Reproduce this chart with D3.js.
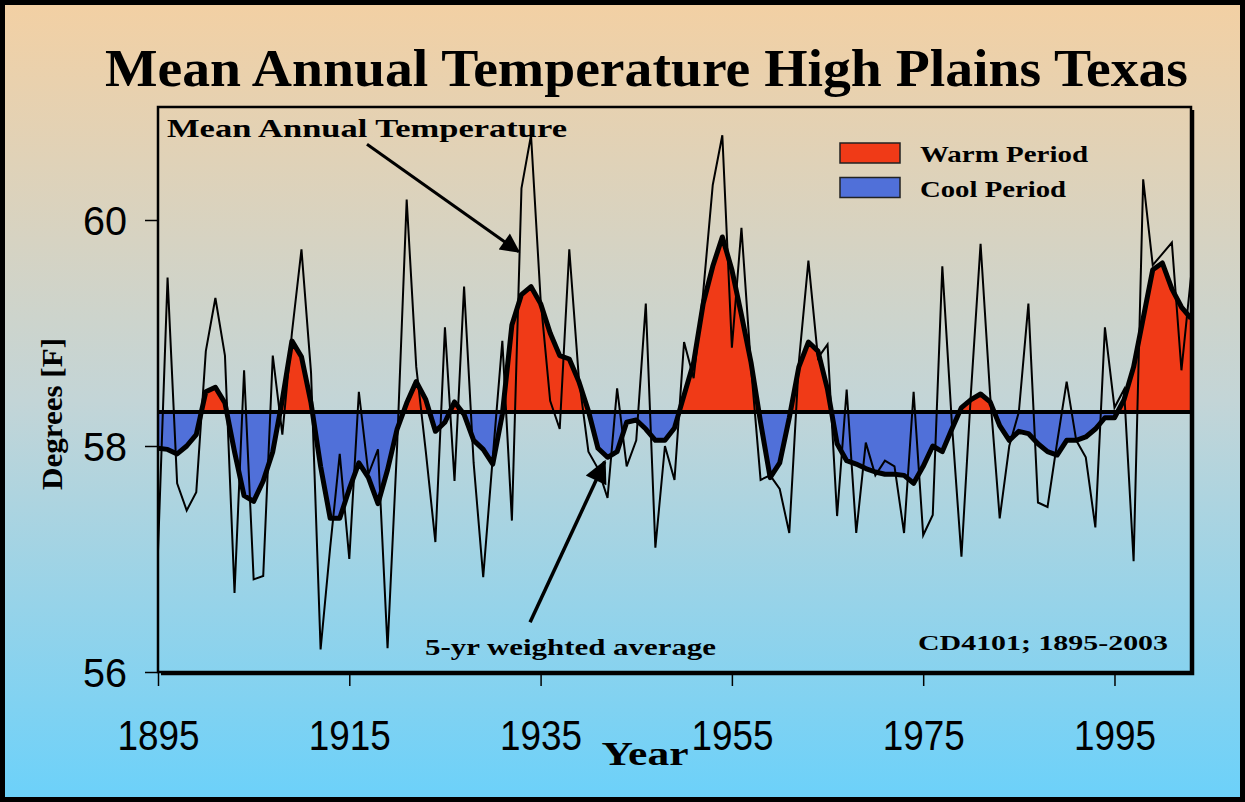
<!DOCTYPE html>
<html>
<head>
<meta charset="utf-8">
<script src="https://cdn.jsdelivr.net/npm/d3@7"></script>
<style>
  html, body { margin: 0; padding: 0; background: #fff; }
  svg { display: block; }
</style>
</head>
<body>
<svg id="chart" width="1245" height="802"></svg>
<script>
// ---------------- DATA ----------------
const years = d3.range(1895, 2004);
const annualTemp = [
  57.07, 59.49, 57.67, 57.43, 57.59, 58.84, 59.31, 58.80, 56.70, 58.67, // 1895-1904
  56.82, 56.85, 58.80, 58.10, 59.00, 59.74, 58.65, 56.20, 57.10, 57.93, // 1905-1914
  57.00, 58.48, 57.75, 57.97, 56.21, 58.00, 60.18, 58.70, 57.95, 57.15, // 1915-1924
  59.05, 57.69, 59.41, 57.85, 56.84, 57.90, 58.93, 57.34, 60.28, 60.75, // 1925-1934
  59.30, 58.40, 58.15, 59.74, 58.60, 57.95, 57.80, 57.54, 58.51, 57.82, // 1935-1944
  58.05, 59.26, 57.10, 58.00, 57.70, 58.92, 58.60, 59.36, 60.31, 60.75, // 1945-1954
  58.87, 59.93, 58.70, 57.70, 57.74, 57.62, 57.23, 58.74, 59.64, 58.78, // 1955-1964
  58.90, 57.38, 58.50, 57.23, 58.03, 57.74, 57.87, 57.82, 57.23, 58.48, // 1965-1974
  57.21, 57.39, 59.59, 58.20, 57.02, 58.48, 59.79, 58.45, 57.36, 58.00, // 1975-1984
  58.30, 59.26, 57.50, 57.46, 58.03, 58.57, 58.05, 57.90, 57.28, 59.05, // 1985-1994
  58.34, 58.50, 56.98, 60.36, 59.60, 59.70, 59.80, 58.67, 59.50          // 1995-2003
];
const weightedAvg5yr = [
  57.98, 57.97, 57.93, 58.00, 58.10, 58.48, 58.52, 58.38, 57.95, 57.56, // 1895-1904
  57.51, 57.69, 57.95, 58.41, 58.93, 58.79, 58.38, 57.82, 57.36, 57.36, // 1905-1914
  57.62, 57.85, 57.72, 57.49, 57.79, 58.15, 58.38, 58.57, 58.41, 58.13, // 1915-1924
  58.21, 58.39, 58.28, 58.05, 57.97, 57.84, 58.28, 59.07, 59.34, 59.41, // 1925-1934
  59.26, 59.00, 58.80, 58.77, 58.57, 58.31, 57.98, 57.90, 57.95, 58.21, // 1935-1944
  58.23, 58.15, 58.05, 58.05, 58.16, 58.45, 58.74, 59.26, 59.59, 59.85, // 1945-1954
  59.56, 59.16, 58.74, 58.21, 57.72, 57.85, 58.25, 58.70, 58.92, 58.84, // 1955-1964
  58.50, 58.02, 57.87, 57.84, 57.80, 57.77, 57.75, 57.75, 57.74, 57.67, // 1965-1974
  57.82, 58.00, 57.95, 58.15, 58.34, 58.41, 58.46, 58.39, 58.18, 58.05, // 1975-1984
  58.13, 58.11, 58.02, 57.95, 57.92, 58.05, 58.05, 58.08, 58.15, 58.25, // 1985-1994
  58.25, 58.41, 58.70, 59.13, 59.56, 59.62, 59.39, 59.23, 59.13          // 1995-2003
];
const baselineMean = 58.3;
const xTickYears = [1895, 1915, 1935, 1955, 1975, 1995];
const yTickValues = [56, 58, 60];
const legendItems = ["Warm Period", "Cool Period"];

// ---------------- LAYOUT ----------------
const W = 1245, H = 802;
const plot = { left: 158, right: 1191, top: 107, bottom: 672 };
const svg = d3.select("#chart");
const serif = "'Liberation Serif', 'Times New Roman', serif";
const sans = "'Liberation Sans', Arial, sans-serif";
const warmColor = "#F03A17";
const coolColor = "#5070D9";

const x = d3.scaleLinear().domain([1895, 2003]).range([plot.left, plot.right]);
const y = d3.scaleLinear().domain([56, 61]).range([plot.bottom, plot.top]);

const defs = svg.append("defs");
const grad = defs.append("linearGradient").attr("id", "bg")
  .attr("x1", 0).attr("y1", 0).attr("x2", 0).attr("y2", 1);
grad.append("stop").attr("offset", "0%").attr("stop-color", "#F3D0A3");
grad.append("stop").attr("offset", "50%").attr("stop-color", "#C3D5D7");
grad.append("stop").attr("offset", "100%").attr("stop-color", "#6BD1FA");

const baseY = y(baselineMean);
defs.append("clipPath").attr("id", "clipAbove").append("rect")
  .attr("x", plot.left).attr("y", plot.top)
  .attr("width", plot.right - plot.left).attr("height", baseY - plot.top);
defs.append("clipPath").attr("id", "clipBelow").append("rect")
  .attr("x", plot.left).attr("y", baseY)
  .attr("width", plot.right - plot.left).attr("height", plot.bottom - baseY);

const marker = defs.append("marker").attr("id", "arrow")
  .attr("viewBox", "0 0 10 10").attr("refX", 9).attr("refY", 5)
  .attr("markerWidth", 9).attr("markerHeight", 6.5)
  .attr("markerUnits", "strokeWidth").attr("orient", "auto");
marker.append("path").attr("d", "M0,0 L10,5 L0,10 Z").attr("fill", "#000");

// background + outer frame
svg.append("rect").attr("x", 0).attr("y", 0).attr("width", W).attr("height", H)
  .attr("fill", "url(#bg)");
svg.append("rect").attr("x", 2.5).attr("y", 2.5).attr("width", W - 5).attr("height", H - 5)
  .attr("fill", "none").attr("stroke", "#000").attr("stroke-width", 5);

// title
svg.append("text").attr("x", 105).attr("y", 86)
  .attr("font-family", serif).attr("font-weight", "bold").attr("font-size", 52)
  .attr("textLength", 1083).attr("lengthAdjust", "spacingAndGlyphs")
  .text("Mean Annual Temperature High Plains Texas");

// data
const pts = years.map((yr, i) => ({ yr, t: annualTemp[i], a: weightedAvg5yr[i] }));

const area = d3.area().x(d => x(d.yr)).y0(baseY).y1(d => y(d.a));
svg.append("path").datum(pts).attr("d", area).attr("fill", warmColor)
  .attr("clip-path", "url(#clipAbove)");
svg.append("path").datum(pts).attr("d", area).attr("fill", coolColor)
  .attr("clip-path", "url(#clipBelow)");

// baseline
svg.append("line").attr("x1", plot.left).attr("x2", plot.right)
  .attr("y1", baseY).attr("y2", baseY).attr("stroke", "#000").attr("stroke-width", 4);

// annual line
svg.append("path").datum(pts)
  .attr("d", d3.line().x(d => x(d.yr)).y(d => y(d.t)))
  .attr("fill", "none").attr("stroke", "#000").attr("stroke-width", 2)
  .attr("stroke-linejoin", "miter");

// 5-yr line
svg.append("path").datum(pts)
  .attr("d", d3.line().x(d => x(d.yr)).y(d => y(d.a)))
  .attr("fill", "none").attr("stroke", "#000").attr("stroke-width", 5)
  .attr("stroke-linejoin", "round");

// plot frame (with slight shadow)
svg.append("path")
  .attr("d", `M${plot.left + 3},${plot.bottom + 2} H${plot.right + 2} V${plot.top + 3}`)
  .attr("fill", "none").attr("stroke", "#000").attr("stroke-width", 2.5);
svg.append("rect").attr("x", plot.left).attr("y", plot.top)
  .attr("width", plot.right - plot.left).attr("height", plot.bottom - plot.top)
  .attr("fill", "none").attr("stroke", "#000").attr("stroke-width", 2.5);

// axes
const yAxis = svg.append("g").attr("transform", `translate(${plot.left},0)`)
  .call(d3.axisLeft(y).tickValues(yTickValues).tickSize(13).tickPadding(0)
    .tickFormat(d3.format("d")));
yAxis.select(".domain").remove();
yAxis.selectAll("line").attr("stroke", "#000").attr("stroke-width", 1.5);
yAxis.selectAll("text").attr("x", -31).attr("dy", "0.36em")
  .attr("font-family", sans).attr("font-size", 41).attr("fill", "#000")
  .attr("textLength", 44).attr("lengthAdjust", "spacingAndGlyphs");

const xAxis = svg.append("g").attr("transform", `translate(0,${plot.bottom})`)
  .call(d3.axisBottom(x).tickValues(xTickYears).tickSize(14).tickFormat(d3.format("d")));
xAxis.select(".domain").remove();
xAxis.selectAll("line").attr("stroke", "#000").attr("stroke-width", 1.5);
xAxis.selectAll("text").attr("y", 78).attr("dy", 0)
  .attr("font-family", sans).attr("font-size", 42).attr("fill", "#000")
  .attr("textLength", 82).attr("lengthAdjust", "spacingAndGlyphs");

// axis titles
svg.append("text").attr("x", 645).attr("y", 765).attr("text-anchor", "middle")
  .attr("font-family", serif).attr("font-weight", "bold").attr("font-size", 33)
  .attr("textLength", 87).attr("lengthAdjust", "spacingAndGlyphs").text("Year");
svg.append("text").attr("transform", "translate(62,414) rotate(-90)")
  .attr("text-anchor", "middle")
  .attr("font-family", serif).attr("font-weight", "bold").attr("font-size", 30)
  .attr("textLength", 152).attr("lengthAdjust", "spacingAndGlyphs").text("Degrees [F]");

// annotations
svg.append("text").attr("x", 167).attr("y", 137)
  .attr("font-family", serif).attr("font-weight", "bold").attr("font-size", 25)
  .attr("textLength", 400).attr("lengthAdjust", "spacingAndGlyphs")
  .text("Mean Annual Temperature");
svg.append("line")
  .attr("x1", x(1916.85)).attr("y1", y(60.67)).attr("x2", x(1932.7)).attr("y2", y(59.72))
  .attr("stroke", "#000").attr("stroke-width", 3).attr("marker-end", "url(#arrow)");

svg.append("text").attr("x", 425).attr("y", 655)
  .attr("font-family", serif).attr("font-weight", "bold").attr("font-size", 23)
  .attr("textLength", 291).attr("lengthAdjust", "spacingAndGlyphs")
  .text("5-yr weighted average");
svg.append("line")
  .attr("x1", x(1933.9)).attr("y1", y(56.44)).attr("x2", x(1941.7)).attr("y2", y(57.86))
  .attr("stroke", "#000").attr("stroke-width", 3.5).attr("marker-end", "url(#arrow)");

svg.append("text").attr("x", 918).attr("y", 650)
  .attr("font-family", serif).attr("font-weight", "bold").attr("font-size", 22)
  .attr("textLength", 250).attr("lengthAdjust", "spacingAndGlyphs")
  .text("CD4101; 1895-2003");

// legend
const legendColors = [warmColor, coolColor];
const legendTextLen = [168, 146];
const lg = svg.append("g");
legendItems.forEach((lab, i) => {
  const ly = 143 + i * 34.5;
  lg.append("rect").attr("x", 840).attr("y", ly).attr("width", 60).attr("height", 20)
    .attr("fill", legendColors[i]).attr("stroke", "#222").attr("stroke-width", 1.5);
  lg.append("text").attr("x", 920).attr("y", ly + 19)
    .attr("font-family", serif).attr("font-weight", "bold").attr("font-size", 23)
    .attr("textLength", legendTextLen[i]).attr("lengthAdjust", "spacingAndGlyphs")
    .text(lab);
});
</script>
</body>
</html>
